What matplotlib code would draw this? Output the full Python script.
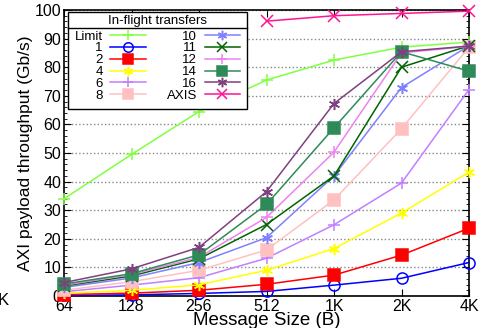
import matplotlib
matplotlib.use("Agg")
import matplotlib.pyplot as plt
from matplotlib.lines import Line2D

plt.rcParams['font.family'] = ['Liberation Sans', 'DejaVu Sans']

sizes = ["64", "128", "256", "512", "1K", "2K", "4K"]
labels = ["Limit", "1", "2", "4", "6", "8", "10", "11", "12", "14", "16", "AXIS"]
limit = [34, 49.5, 64.5, 75.5, 82.5, 87, 88.8]
s1 = [0.2, 0.4, 0.9, 1.6, 3.8, 6.2, 11.7]
s2 = [0.5, 1.0, 2.0, 4.1, 7.3, 14.3, 23.7]
s4 = [1.0, 2.0, 3.9, 9.0, 16.6, 29.0, 43.3]
s6 = [1.5, 3.8, 6.4, 13.2, 24.9, 39.5, 72.2]
s8 = [2.0, 5.0, 9.0, 16.1, 33.6, 58.5, 87.0]
s10 = [3.0, 6.3, 11.7, 20.4, 42.0, 72.9, 87.5]
s11 = [3.5, 7.0, 13.0, 25.0, 42.0, 80.0, 87.5]
s12 = [3.8, 7.5, 13.5, 27.5, 50.3, 85.0, 87.3]
s14 = [4.2, 7.8, 14.4, 32.0, 58.8, 85.4, 78.6]
s16 = [4.7, 9.5, 17.0, 36.5, 67.3, 85.4, 87.4]
axis = [None, None, None, 96.1, 98.0, 98.8, 99.6]

series = [limit, s1, s2, s4, s6, s8, s10, s11, s12, s14, s16, axis]
colors = ["#80ff40", "#0000ff", "#ff0000", "#ffff00", "#c080ff", "#ffc0c0",
          "#8080ff", "#006400", "#ee82ee", "#2e8b57", "#804080", "#ff1493"]
ast = (6, 2, 0)
markers = ["+", "o", "s", ast, "+", "s", ast, "x", "+", "s", ast, "x"]

fig = plt.figure(figsize=(4.93, 3.28), dpi=100)
ax = fig.add_axes([64/493, 1-296/328, 405/493, 286/328])

xs = list(range(len(sizes)))
handles = []
for lab, ys, c, m in zip(labels, series, colors, markers):
    px = [x for x, y in zip(xs, ys) if y is not None]
    py = [y for y in ys if y is not None]
    fill = 'none' if m == 'o' else c
    h, = ax.plot(px, py, color=c, marker=m, markersize=8, lw=1.1,
                 markerfacecolor=fill, markeredgecolor=c, markeredgewidth=1.1,
                 label=lab, clip_on=False, zorder=3)
    handles.append(h)

ax.set_xlim(0, len(sizes)-1)
ax.set_ylim(0, 100)
ax.set_xticks(xs)
ax.set_xticklabels(sizes)
ax.set_yticks(range(0, 101, 10))
ax.set_yticks(range(0, 101, 2), minor=True)
ax.tick_params(axis='both', which='major', labelsize=11.5, direction='in',
               length=5, top=True, right=True, pad=2)
ax.tick_params(axis='y', which='minor', direction='in', length=2.5, right=True)
ax.yaxis.grid(True, linestyle=':', color='#888888', lw=1)
ax.set_axisbelow(True)
for sp in ax.spines.values():
    sp.set_linewidth(1.2)

ax.set_ylabel("AXI payload throughput (Gb/s)", fontsize=12.5, labelpad=1)
ax.set_xlabel("Message Size (B)", fontsize=13.5, labelpad=-1)

leg = ax.legend(handles=handles, labels=labels, ncol=2, loc='upper left',
                bbox_to_anchor=(0.01, 0.993), fontsize=9.5, title="In-flight transfers",
                title_fontsize=9.5, markerfirst=False, frameon=True, fancybox=False,
                edgecolor='black', framealpha=1, handlelength=2.7,
                labelspacing=-0.03, columnspacing=1.6, handletextpad=0.55,
                borderpad=0.25, borderaxespad=0, markerscale=0.85)
leg.get_frame().set_linewidth(1.0)
leg.set_zorder(5)
leg._legend_handle_box.pad = 2.5

fig.text(-0.004, 0.085, "K", fontsize=12, ha='left', va='center')

# separator line under legend title
fig.canvas.draw()
r = fig.canvas.get_renderer()
fb = leg.get_frame().get_window_extent(r)
tb = leg.get_title().get_window_extent(r)
ysep = (tb.y0 - 1) / fig.bbox.height
sep = Line2D([fb.x0 / fig.bbox.width, fb.x1 / fig.bbox.width], [ysep, ysep],
             transform=fig.transFigure, color='black', lw=1.0, zorder=10)
fig.add_artist(sep)

fig.savefig("out.png", dpi=100)
